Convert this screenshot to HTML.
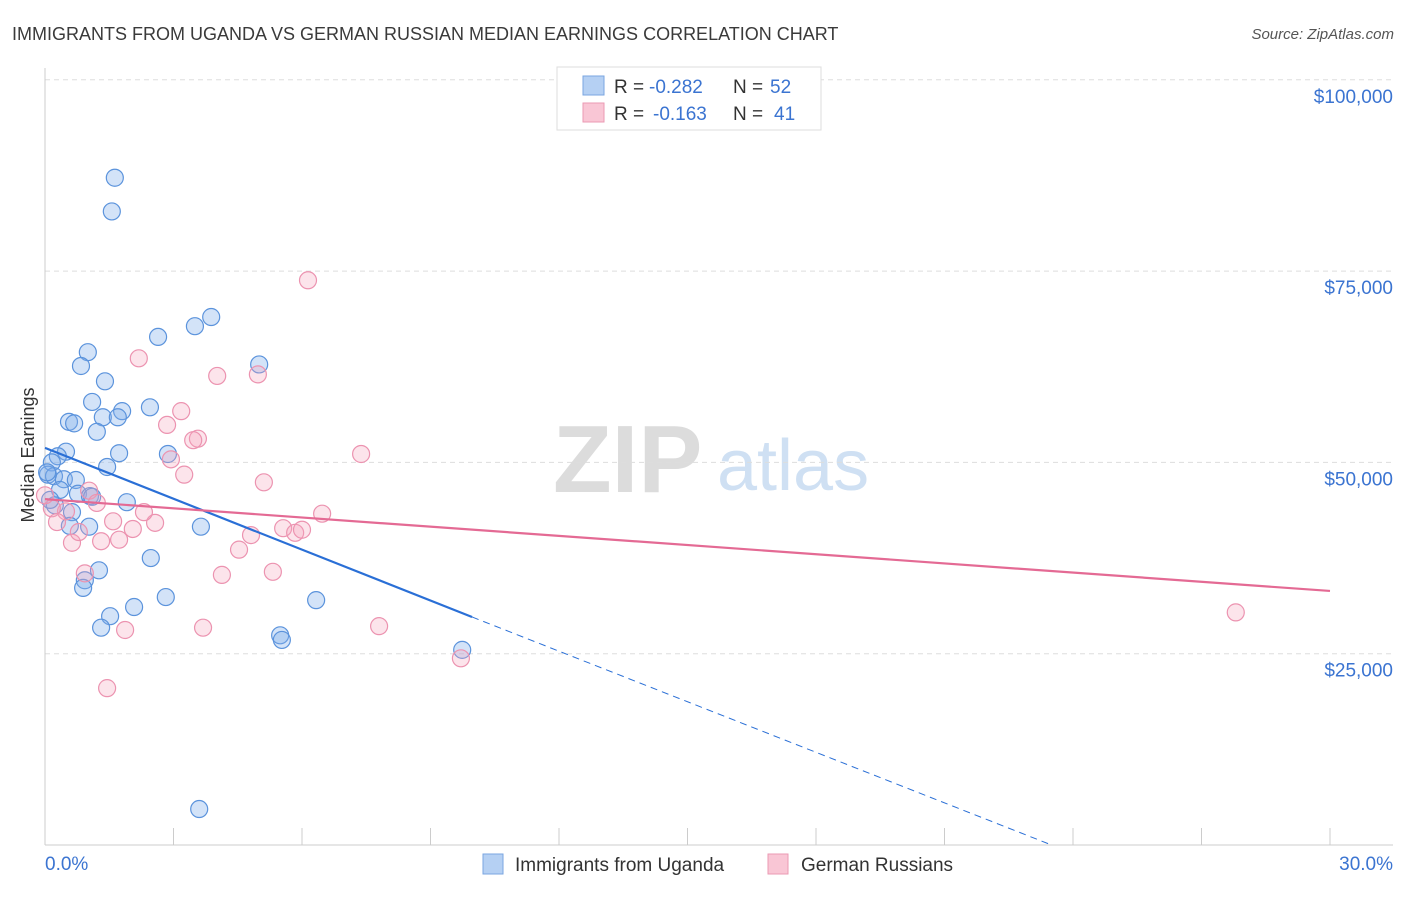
<!DOCTYPE html>
<html><head><meta charset="utf-8"><style>
body{margin:0;background:#fff;font-family:"Liberation Sans",sans-serif}
svg text{font-family:"Liberation Sans",sans-serif}
</style></head><body>
<svg id="chart" width="1406" height="892" viewBox="0 0 1406 892" xmlns="http://www.w3.org/2000/svg">
<text x="12" y="40" font-size="18" fill="#3a3a3a">IMMIGRANTS FROM UGANDA VS GERMAN RUSSIAN MEDIAN EARNINGS CORRELATION CHART</text>
<text x="1394" y="39" font-size="15" fill="#555" font-style="italic" text-anchor="end">Source: ZipAtlas.com</text>
<g>
<text x="553" y="492" font-size="96" fill="#dcdcdc" font-family="Liberation Serif" font-weight="bold">ZIP</text>
<text x="717" y="490" font-size="72" fill="#cfe0f3">atlas</text>
</g>
<g id="grid"></g>
<g id="axes"></g>
<g id="points"></g>
<g id="trends"></g>
<text transform="translate(34,455) rotate(-90)" font-size="18" fill="#333" text-anchor="middle">Median Earnings</text>
<g>
<rect x="557" y="67" width="264" height="63" fill="#fff" stroke="#ddd"/>
<rect x="583" y="76" width="21" height="19" fill="#b5d0f3" stroke="#7aa6e0"/>
<rect x="583" y="103" width="21" height="19" fill="#f9c6d5" stroke="#eb9ab3"/>
<text x="614" y="93" font-size="19" fill="#333">R =</text>
<text x="649" y="93" font-size="19" fill="#3b74d1">-0.282</text>
<text x="733" y="93" font-size="19" fill="#333">N =</text>
<text x="770" y="93" font-size="19" fill="#3b74d1">52</text>
<text x="614" y="120" font-size="19" fill="#333">R =</text>
<text x="653" y="120" font-size="19" fill="#3b74d1">-0.163</text>
<text x="733" y="120" font-size="19" fill="#333">N =</text>
<text x="774" y="120" font-size="19" fill="#3b74d1">41</text>
</g>
<g>
<rect x="483" y="854" width="20" height="20" fill="#b5d0f3" stroke="#7aa6e0"/>
<text x="515" y="871" font-size="19" fill="#333">Immigrants from Uganda</text>
<rect x="768" y="854" width="20" height="20" fill="#f9c6d5" stroke="#eb9ab3"/>
<text x="801" y="871" font-size="19" fill="#333">German Russians</text>
</g>
</svg>
<script>
const blueX=[1.63,1.56,3.88,3.50,2.64,5.00,1.00,0.84,1.40,1.10,1.80,2.45,0.56,0.68,1.35,1.70,1.21,1.73,2.87,0.49,0.30,0.16,1.45,0.07,0.21,0.44,0.72,0.35,0.77,1.05,1.10,1.91,0.23,0.63,0.58,1.03,3.64,2.47,1.26,0.93,0.89,2.82,6.33,1.52,2.08,1.31,5.49,5.53,9.74,3.60,0.05,0.12];
const blueY=[87.2,82.8,69.0,67.8,66.4,62.8,64.4,62.6,60.6,57.9,56.7,57.2,55.3,55.1,55.9,55.9,54.0,51.2,51.1,51.4,50.8,50.0,49.4,48.4,48.2,47.8,47.7,46.4,45.9,45.6,45.5,44.8,44.4,43.5,41.7,41.6,41.6,37.5,35.9,34.6,33.6,32.4,32.0,29.9,31.1,28.4,27.4,26.8,25.5,4.7,48.7,45.1];
const pinkX=[6.14,2.19,4.02,4.97,3.18,2.85,3.57,3.46,2.94,3.25,7.38,5.11,1.03,1.21,0.49,0.16,0.00,1.59,2.57,2.31,6.47,5.56,5.84,6.00,4.81,2.05,0.63,1.31,1.73,0.79,4.53,0.28,4.13,5.32,0.93,1.87,3.69,7.80,1.45,9.71,27.80];
const pinkY=[73.8,63.6,61.3,61.5,56.7,54.9,53.1,52.9,50.4,48.4,51.1,47.4,46.3,44.7,43.6,44.0,45.7,42.3,42.1,43.5,43.3,41.4,40.8,41.2,40.5,41.3,39.5,39.7,39.9,40.9,38.6,42.2,35.3,35.7,35.5,28.1,28.4,28.6,20.5,24.4,30.4];
const yTicks=[25,50,75,100];
const yTickLabels=["$25,000","$50,000","$75,000","$100,000"];
const xTicks=[0,3,6,9,12,15,18,21,24,27,30];
const blueTrend=[[0,51.9],[9.97,29.8],[23.5,0]];
const pinkTrend=[[0,45.2],[30,33.2]];
const NS="http://www.w3.org/2000/svg";
const sx=v=>45+v/30*1285;
const sy=v=>845-v/25*191.3;
function mk(tag,attrs,parent){const e=document.createElementNS(NS,tag);for(const k in attrs)e.setAttribute(k,attrs[k]);parent.appendChild(e);return e;}
const grid=document.getElementById('grid'),axes=document.getElementById('axes'),pts=document.getElementById('points'),tr=document.getElementById('trends');
yTicks.forEach((t,i)=>{
 const l=mk('line',{x1:45,x2:1393,y1:sy(t),y2:sy(t),stroke:'#ddd','stroke-dasharray':'5,4'},grid);
 
 
 const tx=mk('text',{x:1393,y:sy(t)+23,'font-size':19,fill:'#3b74d1','text-anchor':'end'},axes);
 tx.textContent=yTickLabels[i];
 
 
});
mk('line',{x1:45,x2:45,y1:68,y2:845,stroke:'#ccc'},axes);
mk('line',{x1:45,x2:1393,y1:845,y2:845,stroke:'#ccc'},axes);
xTicks.forEach(t=>{
 const l=mk('line',{x1:sx(t),x2:sx(t),y1:828,y2:845,stroke:'#ccc'},axes);
 
 
});
const x0=mk('text',{x:45,y:870,'font-size':19,fill:'#3b74d1'},axes);x0.textContent=xTicks[0].toFixed(1)+'%';


const x1=mk('text',{x:1393,y:870,'font-size':19,fill:'#3b74d1','text-anchor':'end'},axes);x1.textContent=xTicks[xTicks.length-1].toFixed(1)+'%';


blueX.forEach((v,i)=>{
 const c=mk('circle',{cx:sx(v),cy:sy(blueY[i]),r:8.5,fill:'rgba(130,175,235,0.35)',stroke:'#5b93dc','stroke-width':1.2},pts);
 
 
});
pinkX.forEach((v,i)=>{
 const c=mk('circle',{cx:sx(v),cy:sy(pinkY[i]),r:8.5,fill:'rgba(245,165,190,0.3)',stroke:'#ec93b0','stroke-width':1.2},pts);
 
 
});
const b1=mk('line',{x1:sx(blueTrend[0][0]),y1:sy(blueTrend[0][1]),x2:sx(blueTrend[1][0]),y2:sy(blueTrend[1][1]),stroke:'#2a6fd6','stroke-width':2.2},tr);


const b2=mk('line',{x1:sx(blueTrend[1][0]),y1:sy(blueTrend[1][1]),x2:sx(blueTrend[2][0]),y2:sy(blueTrend[2][1]),stroke:'#2a6fd6','stroke-width':1,'stroke-dasharray':'7,5'},tr);


const p1=mk('line',{x1:sx(pinkTrend[0][0]),y1:sy(pinkTrend[0][1]),x2:sx(pinkTrend[1][0]),y2:sy(pinkTrend[1][1]),stroke:'#e46a94','stroke-width':2.2},tr);


</script>
</body></html>
